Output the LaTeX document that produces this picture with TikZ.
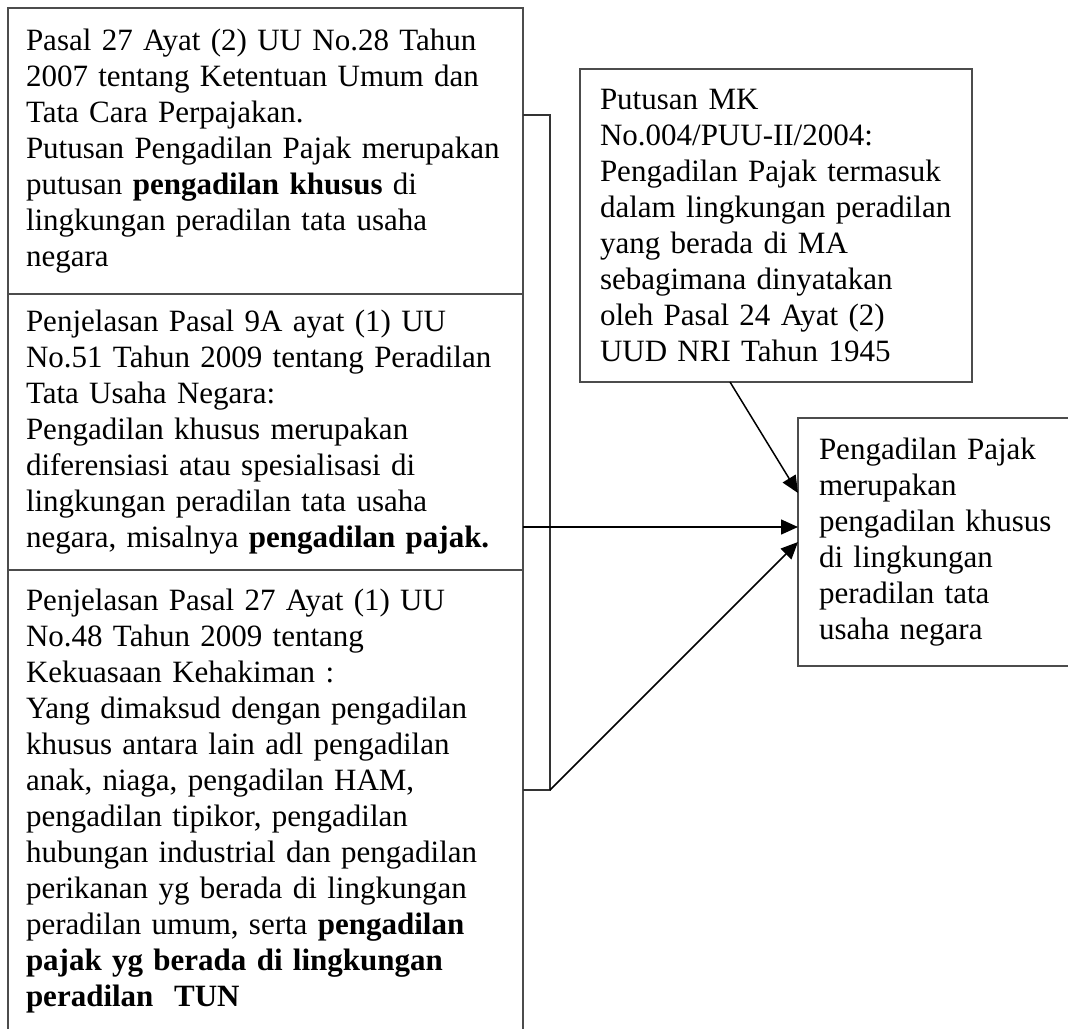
\documentclass[tikz,border=0pt]{standalone}
\usepackage{fontspec}
\setmainfont{Liberation Serif}
\usetikzlibrary{arrows.meta}
\usetikzlibrary{positioning}
\tikzstyle{pasal} = [rectangle, draw=black!70, line width=1.2pt, outer sep=0pt, minimum width=515pt, text width=479pt, inner xsep=18pt, align=left, font=\fontsize{31}{36}\selectfont]
\tikzstyle{kotak} = [rectangle, draw=black!70, line width=1.2pt, outer sep=0pt, inner xsep=20pt, align=left, font=\fontsize{31}{36}\selectfont]
\tikzstyle{garis} = [draw=black!80, line width=1.2pt]
\tikzstyle{arrow} = [line width=1.5pt, -{Triangle[length=17pt,width=15pt]}]

\begin{document}
\begin{tikzpicture}[x=1pt, y=-1pt]
\useasboundingbox (0,0) rectangle (1068,1028);
\node (pasalA) [pasal, minimum height=286pt, anchor=north west] at (8,8) {Pasal 27 Ayat (2) UU No.28 Tahun\\2007 tentang Ketentuan Umum dan\\Tata Cara Perpajakan.\\Putusan Pengadilan Pajak merupakan\\putusan \textbf{pengadilan khusus} di\\lingkungan peradilan tata usaha\\negara};
\node (pasalB) [pasal, minimum height=276pt, below=0pt of pasalA] {Penjelasan Pasal 9A ayat (1) UU\\No.51 Tahun 2009 tentang Peradilan\\Tata Usaha Negara:\\Pengadilan khusus merupakan\\diferensiasi atau spesialisasi di\\lingkungan peradilan tata usaha\\negara, misalnya \textbf{pengadilan pajak.}};
\node (pasalC) [pasal, minimum height=462pt, below=0pt of pasalB] {Penjelasan Pasal 27 Ayat (1) UU\\No.48 Tahun 2009 tentang\\Kekuasaan Kehakiman :\\Yang dimaksud dengan pengadilan\\khusus antara lain adl pengadilan\\anak, niaga, pengadilan HAM,\\pengadilan tipikor, pengadilan\\hubungan industrial dan pengadilan\\perikanan yg berada di lingkungan\\peradilan umum, serta \textbf{pengadilan}\\\textbf{pajak yg berada di lingkungan}\\\textbf{peradilan~ TUN}};
\node (putusanMK) [kotak, text width=352pt, minimum height=313pt, anchor=north west] at (580,69) {Putusan MK\\No.004/PUU-II/2004:\\Pengadilan Pajak termasuk\\dalam lingkungan peradilan\\yang berada di MA\\sebagimana dinyatakan\\oleh Pasal 24 Ayat (2)\\UUD NRI Tahun 1945};
\node (hasil) [kotak, text width=260pt, inner xsep=21pt, minimum height=248pt, anchor=north west] at (798,418) {Pengadilan Pajak\\merupakan\\pengadilan khusus\\di lingkungan\\peradilan tata\\usaha negara};
\coordinate (brAtas) at (550,115);
\coordinate (brBawah) at (550,790);
\coordinate (masuk) at ([yshift=15pt]hasil.west);
\draw [garis] (pasalA.east |- brAtas) -- (brAtas) -- (brBawah) -- (pasalC.east |- brBawah);
\draw [arrow] (pasalB.east |- masuk) -- (masuk);
\draw [arrow] (brBawah) -- (hasil.west);
\draw [arrow] ([xshift=-46pt]putusanMK.south) -- ([yshift=49pt]hasil.west);
\end{tikzpicture}
\end{document}
